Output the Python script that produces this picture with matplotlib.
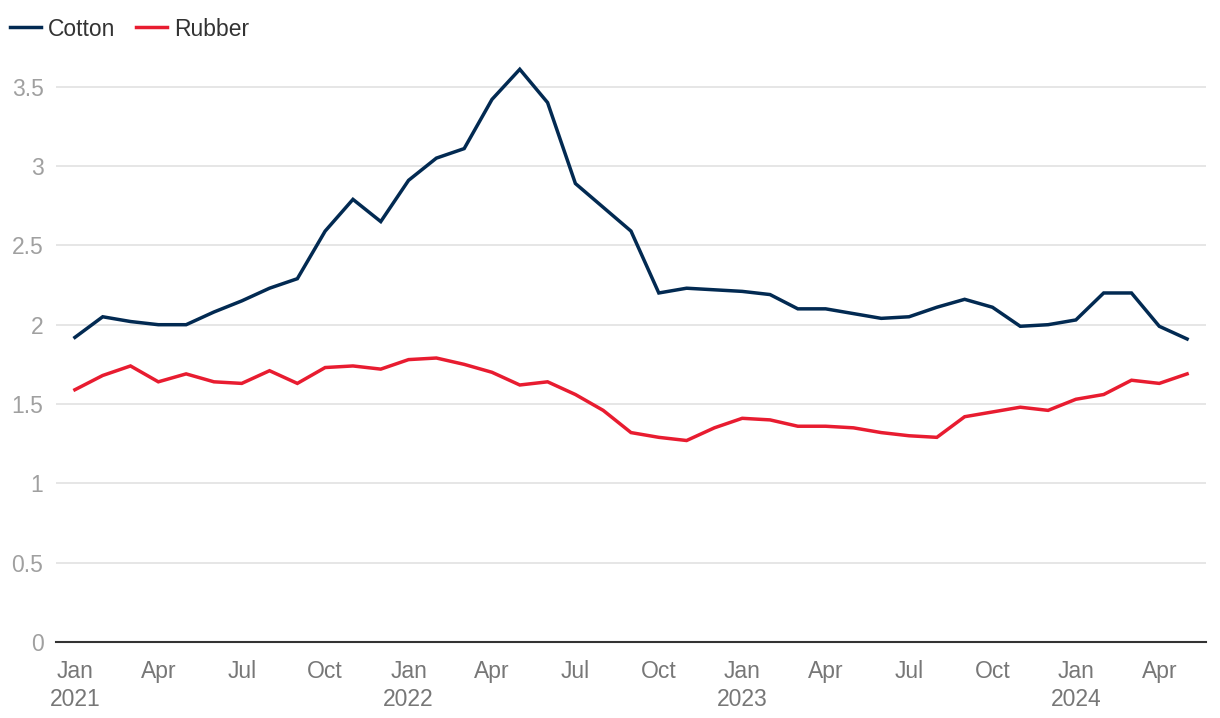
import numpy as np
import matplotlib
matplotlib.use('Agg')
import matplotlib.pyplot as plt

plt.rcParams['font.family'] = ['Liberation Sans', 'DejaVu Sans']

months = ['Jan', 'Feb', 'Mar', 'Apr', 'May', 'Jun', 'Jul', 'Aug', 'Sep', 'Oct', 'Nov', 'Dec']
years = [2021, 2022, 2023, 2024]
n_points = 41  # Jan 2021 .. May 2024

cotton = [1.92, 2.05, 2.02, 2.00, 2.00, 2.08, 2.15, 2.23, 2.29, 2.59, 2.79, 2.65,
          2.91, 3.05, 3.11, 3.42, 3.61, 3.40, 2.89, 2.74, 2.59, 2.20, 2.23, 2.22,
          2.21, 2.19, 2.10, 2.10, 2.07, 2.04, 2.05, 2.11, 2.16, 2.11, 1.99, 2.00,
          2.03, 2.20, 2.20, 1.99, 1.91]
rubber = [1.59, 1.68, 1.74, 1.64, 1.69, 1.64, 1.63, 1.71, 1.63, 1.73, 1.74, 1.72,
          1.78, 1.79, 1.75, 1.70, 1.62, 1.64, 1.56, 1.46, 1.32, 1.29, 1.27, 1.35,
          1.41, 1.40, 1.36, 1.36, 1.35, 1.32, 1.30, 1.29, 1.42, 1.45, 1.48, 1.46,
          1.53, 1.56, 1.65, 1.63, 1.69]
y_ticks = [0, 0.5, 1, 1.5, 2, 2.5, 3, 3.5]
y_labels = ['0', '0.5', '1', '1.5', '2', '2.5', '3', '3.5']

x = np.arange(n_points)
tick_pos = x[::3]
tick_labels = []
for p in tick_pos:
    m = months[p % 12]
    tick_labels.append(f'{m}\n{years[p // 12]}' if p % 12 == 0 else m)

fig = plt.figure(figsize=(12.2, 7.18), dpi=100)
ax = fig.add_axes([56 / 1220, 1 - 642 / 718, (1206 - 56) / 1220, (642 - 55) / 718])

ax.plot(x, cotton, color='#022a52', lw=2.5, label='Cotton', solid_joinstyle='miter', zorder=3)
ax.plot(x, rubber, color='#e81c30', lw=2.5, label='Rubber', solid_joinstyle='miter', zorder=3)

ax.set_xlim(-0.68, 40.68)
ax.set_ylim(0, 3.7)
ax.set_yticks(y_ticks, y_labels)
ax.set_xticks(tick_pos, tick_labels)

ax.grid(axis='y', color='#e2e2e2', lw=1.2)
ax.set_axisbelow(True)
for s in ['top', 'right', 'left']:
    ax.spines[s].set_visible(False)
ax.spines['bottom'].set_color('#333333')
ax.spines['bottom'].set_linewidth(1.5)
ax.spines['bottom'].set_zorder(4)

ax.tick_params(axis='y', length=0, pad=9, labelsize=16.5, labelcolor='#a0a0a0')
ax.tick_params(axis='x', length=0, pad=13, labelsize=16.5, labelcolor='#777777')
for t in ax.get_xticklabels():
    t.set_linespacing(1.3)

fig.legend(loc='center left', bbox_to_anchor=(10 / 1220, 1 - 29 / 718), ncol=2, frameon=False,
           fontsize=16.5, handlelength=1.35, handletextpad=0.3, columnspacing=0.9,
           borderpad=0, borderaxespad=0, labelcolor='#333333')

fig.savefig('out.png', dpi=100)
